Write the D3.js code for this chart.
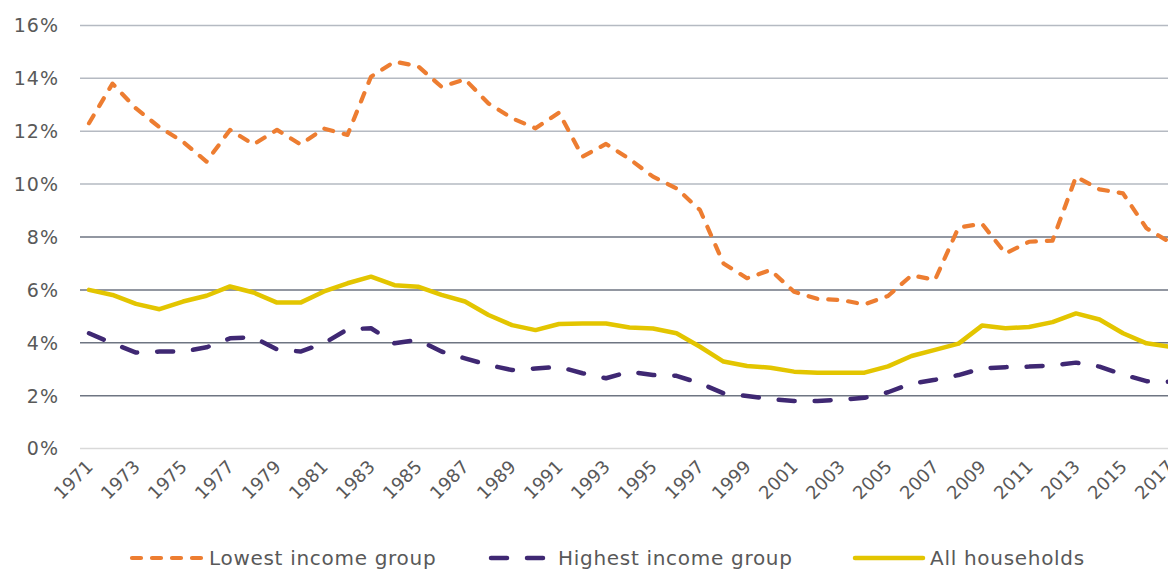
<!DOCTYPE html>
<html>
<head>
<meta charset="utf-8">
<script src="https://cdn.jsdelivr.net/npm/d3@7"></script>
<style>
    body { margin: 0; background: #fff; }
    svg { display: block; font-family: "DejaVu Sans", Verdana, sans-serif; }
</style>
</head>
<body>
<div class="chart"></div>
<script>
// #region Data
const years = d3.range(1971, 2018);
const yTicks = [0, 0.02, 0.04, 0.06, 0.08, 0.10, 0.12, 0.14, 0.16];
const xTickYears = years.filter((d) => (d - 1971) % 2 == 0);
const seriesNames = ['Lowest income group', 'Highest income group', 'All households'];

const lowestIncome = [
    12.3, 13.8, 12.86, 12.15, 11.6, 10.85, 12.05, 11.5, 12.05, 11.5, 12.1, 11.86,
    14.06, 14.63, 14.46, 13.68, 13.96, 13.05, 12.49, 12.11, 12.7, 11.04, 11.52, 10.95,
    10.28, 9.84, 9.02, 7.0, 6.44, 6.75, 5.93, 5.66, 5.62, 5.45, 5.77, 6.55,
    6.38, 8.36, 8.5, 7.38, 7.82, 7.86, 10.28, 9.8, 9.65, 8.33, 7.8
];
const highestIncome = [
    4.36, 3.98, 3.63, 3.67, 3.67, 3.83, 4.17, 4.21, 3.75, 3.67, 3.98, 4.51,
    4.55, 3.98, 4.11, 3.67, 3.41, 3.16, 2.97, 3.03, 3.09, 2.85, 2.66, 2.91,
    2.78, 2.75, 2.47, 2.09, 1.99, 1.87, 1.8, 1.8, 1.85, 1.92, 2.13, 2.46,
    2.6, 2.78, 3.03, 3.08, 3.1, 3.14, 3.25, 3.1, 2.8, 2.55, 2.53
];
const allHouseholds = [
    6.0, 5.81, 5.47, 5.27, 5.56, 5.78, 6.13, 5.9, 5.52, 5.52, 5.94, 6.25,
    6.5, 6.18, 6.12, 5.81, 5.56, 5.05, 4.67, 4.48, 4.71, 4.73, 4.73, 4.58,
    4.54, 4.36, 3.85, 3.29, 3.12, 3.06, 2.91, 2.87, 2.87, 2.87, 3.11, 3.5,
    3.73, 3.97, 4.65, 4.55, 4.6, 4.78, 5.11, 4.88, 4.36, 3.98, 3.85
];
// #endregion

const width = 1168, height = 570;
const svg = d3.select('.chart').append('svg')
    .attr('width', width)
    .attr('height', height);

// #region Scales
const xScale = d3.scalePoint()
    .domain(years)
    .range([89, 89 + 46 * 23.5]);
const yScale = d3.scaleLinear()
    .domain([0, 0.16])
    .range([448.6, 25.4]);
// #endregion

// #region Grid + Y labels
function gridColor(d) {
    if (d == 0) return '#d9d9d9';
    if (d <= 0.081) return '#6e7582';
    return '#b5bac2';
}
svg.append('g').attr('class', 'grid')
    .selectAll('line')
    .data(yTicks)
    .enter()
    .append('line')
    .attr('x1', 80)
    .attr('x2', width)
    .attr('y1', (d) => yScale(d))
    .attr('y2', (d) => yScale(d))
    .attr('stroke', gridColor)
    .attr('stroke-width', 1.5);

svg.append('g').attr('class', 'yLabels')
    .selectAll('text')
    .data(yTicks)
    .enter()
    .append('text')
    .attr('x', 59)
    .attr('y', (d) => yScale(d))
    .attr('dy', '0.36em')
    .attr('text-anchor', 'end')
    .attr('font-size', 19)
    .attr('letter-spacing', 1)
    .attr('fill', '#595959')
    .text((d) => d3.format('.0%')(d));
// #endregion

// #region X labels
svg.append('g').attr('class', 'xLabels')
    .selectAll('text')
    .data(xTickYears)
    .enter()
    .append('text')
    .attr('transform', (d) => 'translate(' + (xScale(d) + 5) + ',468) rotate(-45)')
    .attr('text-anchor', 'end')
    .attr('font-size', 18)
    .attr('fill', '#595959')
    .text((d) => d);
// #endregion

// #region Lines
const series = [
    { name: seriesNames[0], values: lowestIncome, color: '#ed7d31', width: 4.2, dash: '9 11' },
    { name: seriesNames[1], values: highestIncome, color: '#3f2873', width: 4.5, dash: '16 20' },
    { name: seriesNames[2], values: allHouseholds, color: '#e3c500', width: 4.5, dash: null }
];
const line = d3.line()
    .x((d, i) => xScale(years[i]))
    .y((d) => yScale(d / 100));

svg.append('g').attr('class', 'lines')
    .selectAll('path')
    .data(series.slice().reverse())
    .enter()
    .append('path')
    .attr('d', (d) => line(d.values))
    .attr('fill', 'none')
    .attr('stroke', (d) => d.color)
    .attr('stroke-width', (d) => d.width)
    .attr('stroke-dasharray', (d) => d.dash)
    .attr('stroke-linecap', 'round')
    .attr('stroke-linejoin', 'round');
// #endregion

// #region Legend
const legendStart = [130, 489, 853];
const legendSample = [74, 64, 72];
const gLegend = svg.append('g').attr('class', 'legend');
series.forEach((s, i) => {
    const g = gLegend.append('g').attr('transform', 'translate(' + legendStart[i] + ',0)');
    g.append('line')
        .attr('x1', 2).attr('x2', legendSample[i] - 2)
        .attr('y1', 558).attr('y2', 558)
        .attr('stroke', s.color)
        .attr('stroke-width', s.width)
        .attr('stroke-dasharray', s.dash)
        .attr('stroke-linecap', 'round');
    g.append('text')
        .attr('x', legendSample[i] + 5)
        .attr('y', 565)
        .attr('font-size', 20)
        .attr('letter-spacing', 0.7)
        .attr('fill', '#595959')
        .text(s.name);
});
// #endregion
</script>
</body>
</html>
